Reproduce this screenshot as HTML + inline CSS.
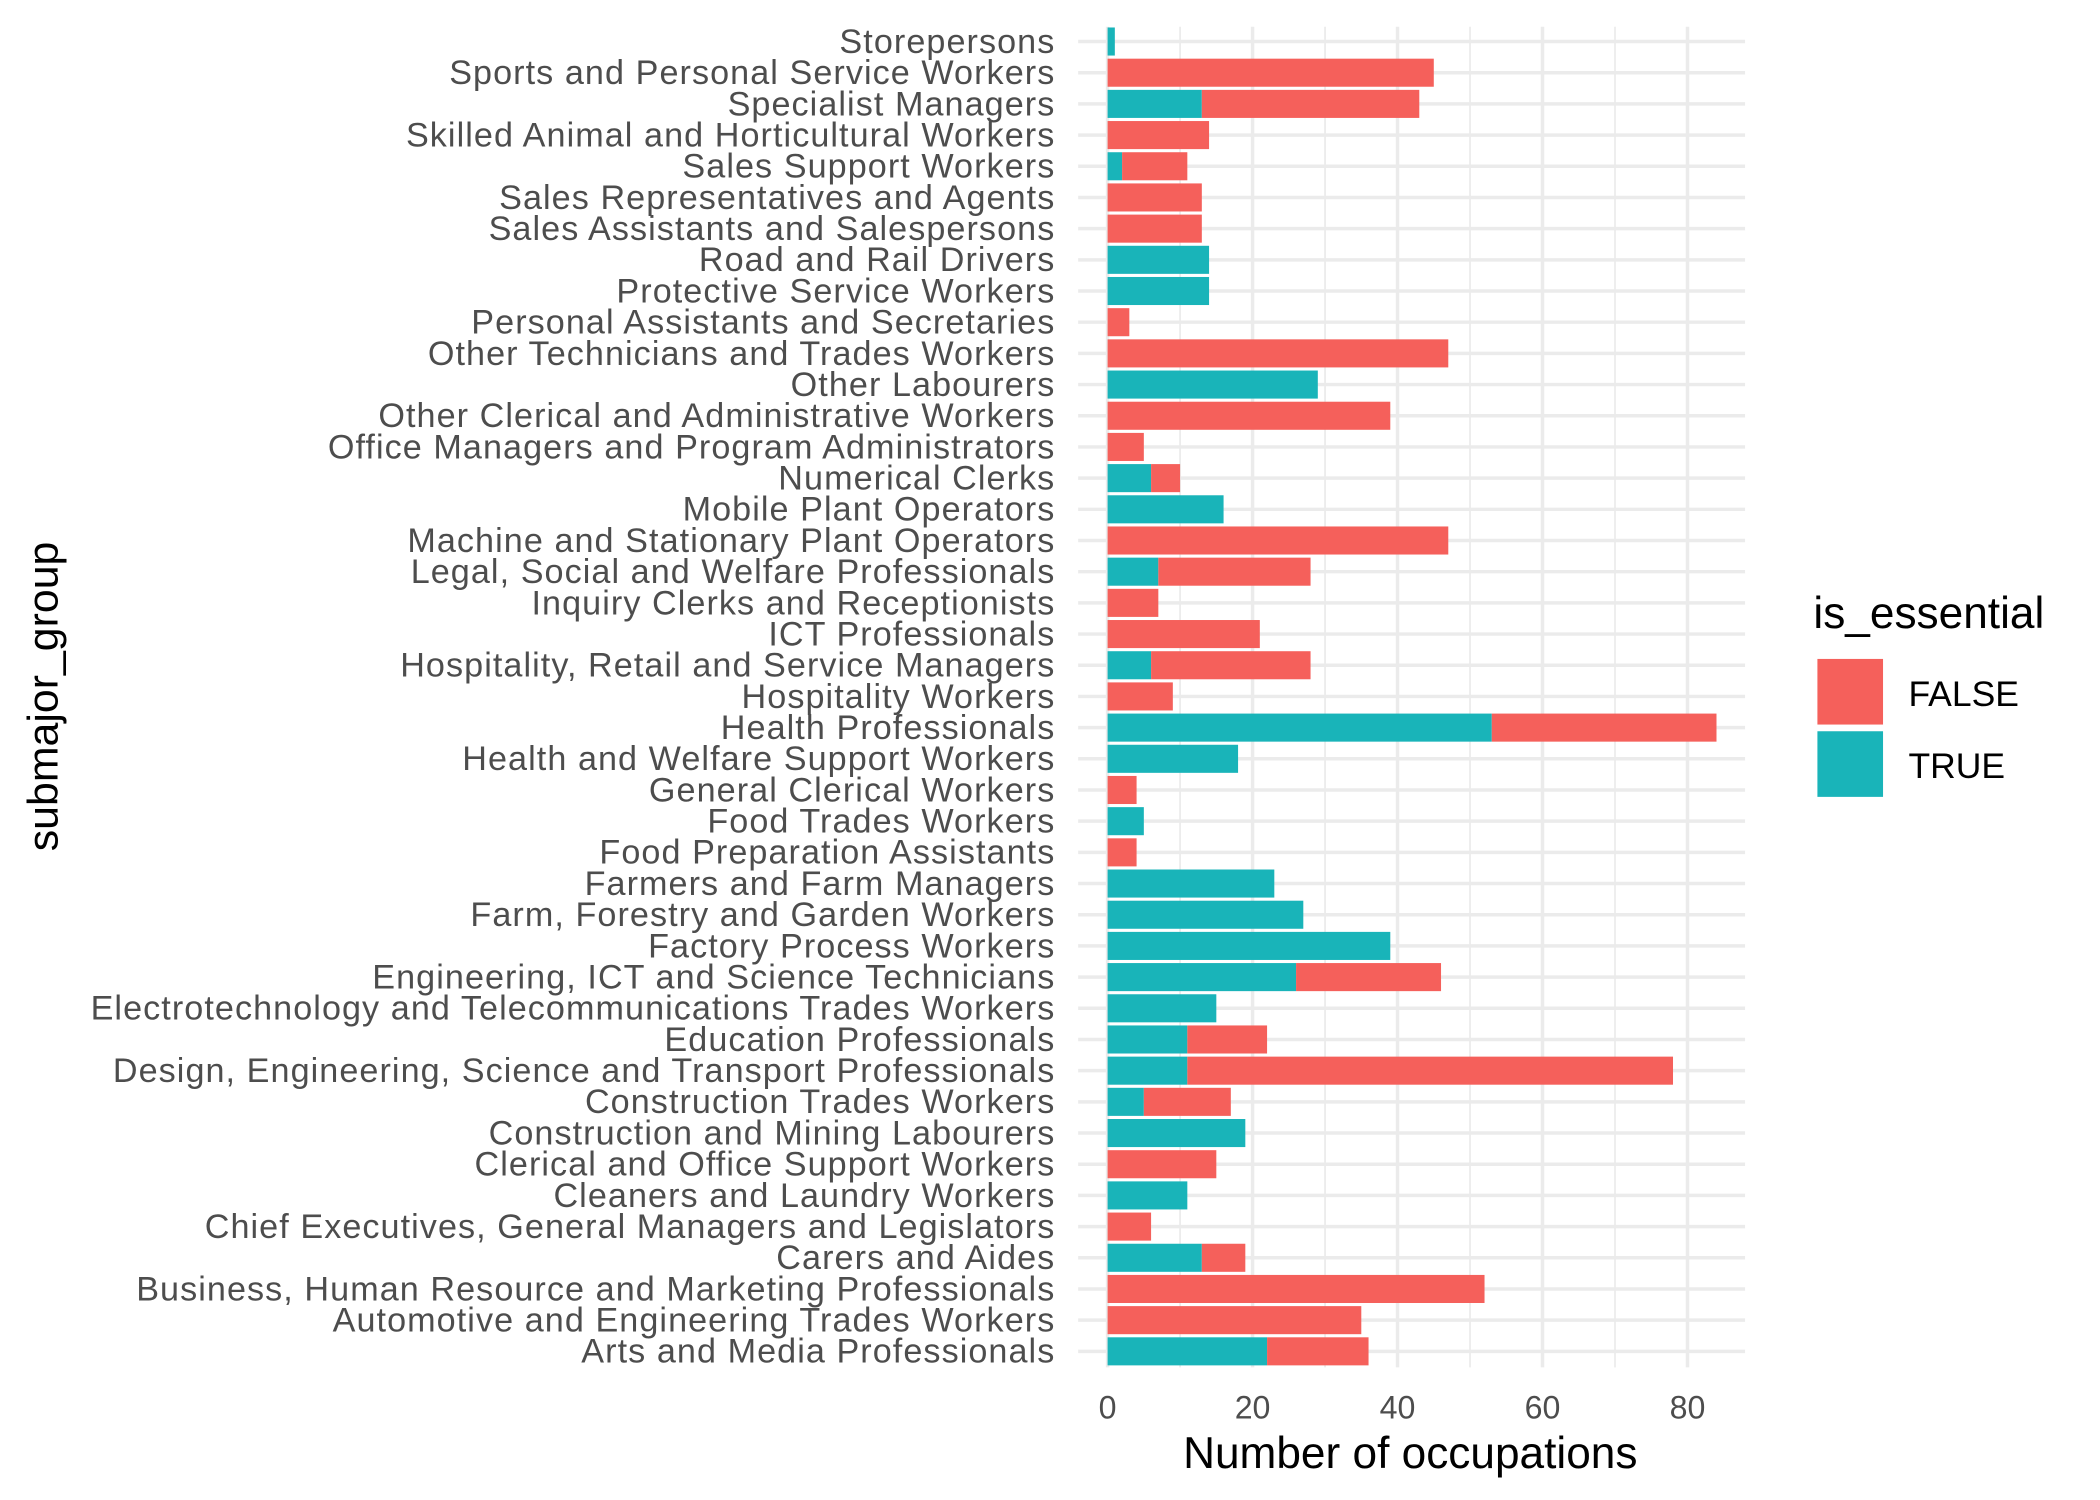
<!DOCTYPE html>
<html><head><meta charset="utf-8"><style>
html,body{margin:0;padding:0;background:#fff;}
svg{display:block;font-family:"Liberation Sans",Arial,sans-serif;}
</style></head><body>
<svg id="chart" width="2100" height="1500" viewBox="0 0 1568 1120" preserveAspectRatio="none" xmlns="http://www.w3.org/2000/svg">
<g id="grid"></g>
<g id="bars"></g>
<g id="ylabels"></g>
<g id="xlabels"></g>
<text x="1053" y="1096" font-size="33" text-anchor="middle" fill="#000">Number of occupations</text>
<text transform="translate(43,520) rotate(-90)" font-size="32" text-anchor="middle" fill="#000">submajor_group</text>
<g>
<text x="1354" y="469" font-size="33" fill="#000">is_essential</text>
<rect x="1357" y="492" width="49" height="49" fill="#F5605B"/>
<text x="1425" y="527" font-size="26.5" fill="#000">FALSE</text>
<rect x="1357" y="546" width="49" height="49" fill="#19B4B9"/>
<text x="1425" y="581" font-size="26.5" fill="#000">TRUE</text>
</g>
</svg>
<script>
const categories = ["Storepersons","Sports and Personal Service Workers","Specialist Managers","Skilled Animal and Horticultural Workers","Sales Support Workers","Sales Representatives and Agents","Sales Assistants and Salespersons","Road and Rail Drivers","Protective Service Workers","Personal Assistants and Secretaries","Other Technicians and Trades Workers","Other Labourers","Other Clerical and Administrative Workers","Office Managers and Program Administrators","Numerical Clerks","Mobile Plant Operators","Machine and Stationary Plant Operators","Legal, Social and Welfare Professionals","Inquiry Clerks and Receptionists","ICT Professionals","Hospitality, Retail and Service Managers","Hospitality Workers","Health Professionals","Health and Welfare Support Workers","General Clerical Workers","Food Trades Workers","Food Preparation Assistants","Farmers and Farm Managers","Farm, Forestry and Garden Workers","Factory Process Workers","Engineering, ICT and Science Technicians","Electrotechnology and Telecommunications Trades Workers","Education Professionals","Design, Engineering, Science and Transport Professionals","Construction Trades Workers","Construction and Mining Labourers","Clerical and Office Support Workers","Cleaners and Laundry Workers","Chief Executives, General Managers and Legislators","Carers and Aides","Business, Human Resource and Marketing Professionals","Automotive and Engineering Trades Workers","Arts and Media Professionals"];
const trueCounts = [1,0,13,0,2,0,0,14,14,0,0,29,0,0,6,16,0,7,0,0,6,0,53,18,0,5,0,23,27,39,26,15,11,11,5,19,0,11,0,13,0,0,22];
const falseCounts = [0,45,30,14,9,13,13,0,0,3,47,0,39,5,4,0,47,21,7,21,22,9,31,0,4,0,4,0,0,0,20,0,11,67,12,0,15,0,6,6,52,35,14];
const xTicks = [0,20,40,60,80];
const xMinor = [10,30,50,70];

const NS="http://www.w3.org/2000/svg";
const x0=827, pxPer=5.4125, panelL=805, panelR=1303, panelT=20, panelB=1021;
const yTop=31, step=(1009-31)/42, barH=step*0.9;
const xs=v=>x0+v*pxPer;
const ys=i=>yTop+i*step;
function mk(tag,attrs,parent){const e=document.createElementNS(NS,tag);for(const k in attrs)e.setAttribute(k,attrs[k]);parent.appendChild(e);return e;}
const grid=document.getElementById('grid'), bars=document.getElementById('bars'), yl=document.getElementById('ylabels'), xl=document.getElementById('xlabels');
xMinor.forEach(v=>{const l=mk('line',{x1:xs(v),x2:xs(v),y1:panelT,y2:panelB,stroke:'#ebebeb','stroke-width':1.3},grid);

});
xTicks.forEach(v=>{const l=mk('line',{x1:xs(v),x2:xs(v),y1:panelT,y2:panelB,stroke:'#ebebeb','stroke-width':2.6},grid);


const t=mk('text',{x:xs(v),y:1059,'font-size':24,'text-anchor':'middle',fill:'#4d4d4d'},xl);t.textContent=v;

});
categories.forEach((c,i)=>{const y=ys(i);
const l=mk('line',{x1:panelL,x2:panelR,y1:y,y2:y,stroke:'#ebebeb','stroke-width':2.6},grid);


const t=mk('text',{x:788,y:y+8.5,'font-size':25.5,'letter-spacing':0.8,'text-anchor':'end',fill:'#4d4d4d'},yl);t.textContent=c;


const tv=trueCounts[i], fv=falseCounts[i];
if(tv>0){const r=mk('rect',{x:xs(0),y:y-barH/2,width:xs(tv)-xs(0),height:barH,fill:'#19B4B9'},bars);

}
if(fv>0){const r=mk('rect',{x:xs(tv),y:y-barH/2,width:xs(tv+fv)-xs(tv),height:barH,fill:'#F5605B'},bars);

}
});
</script>
</body></html>
